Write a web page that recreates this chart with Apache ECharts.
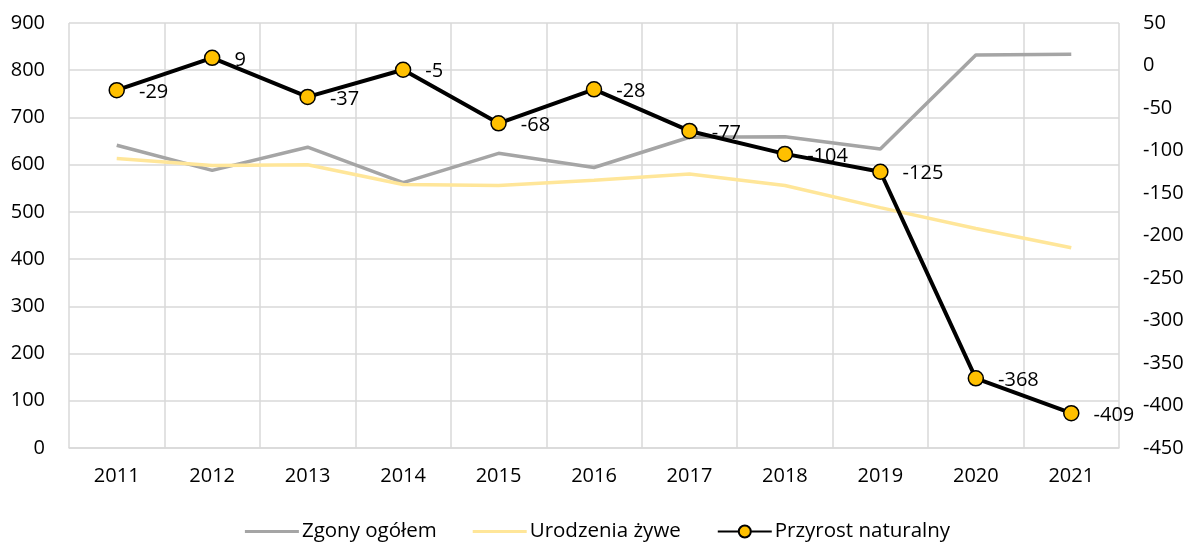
<!DOCTYPE html>
<html>
<head>
<meta charset="utf-8">
<script src="https://cdn.jsdelivr.net/npm/echarts@6/dist/echarts.min.js"></script>
<style>
  html, body { margin: 0; padding: 0; background: #fff; }
  #chart { width: 1195px; height: 545px; }
</style>
</head>
<body>
<div id="chart"></div>
<script>
// lata
var years = ['2011', '2012', '2013', '2014', '2015', '2016', '2017', '2018', '2019', '2020', '2021']
// lewa os
var zgony = [641, 588, 637, 562, 624, 594, 658, 659, 633, 832, 834]
var urodzenia = [613, 598, 600, 558, 556, 567, 580, 556, 509, 465, 424]
// prawa os
var przyrost = [-29, 9, -37, -5, -68, -28, -77, -104, -125, -368, -409]

var font = 'Open Sans'
var chart = echarts.init(document.getElementById('chart'))
var option = {
  animation: false,
  textStyle: { fontFamily: font },
  grid: { left: 69, right: 76, top: 23, bottom: 97, outerBoundsMode: 'none' },
  legend: {
    top: 516,
    left: 'center',
    itemWidth: 54,
    itemHeight: 15,
    itemGap: 36,
    textStyle: { fontFamily: font, fontSize: 20.5, color: '#000', padding: [0, 0, 0, -2] },
    data: [
      { name: 'Zgony ogółem', icon: 'path://M0,0 L54,0 L54,3 L0,3 Z', itemStyle: { color: '#a5a5a5' } },
      { name: 'Urodzenia żywe', icon: 'path://M0,0 L54,0 L54,3 L0,3 Z', itemStyle: { color: '#ffe699' } },
      'Przyrost naturalny'
    ]
  },
  xAxis: {
    type: 'category',
    data: years,
    boundaryGap: true,
    axisLine: { lineStyle: { color: '#d9d9d9', width: 1.5 } },
    axisTick: { show: false },
    splitLine: { show: true, lineStyle: { color: '#d9d9d9', width: 1.5 } },
    axisLabel: { color: '#000', fontSize: 20, margin: 18, fontFamily: font }
  },
  yAxis: [
    {
      type: 'value',
      min: 0,
      max: 900,
      interval: 100,
      axisLine: { show: false },
      axisTick: { show: false },
      splitLine: { lineStyle: { color: '#d9d9d9', width: 1.5 } },
      axisLabel: { color: '#000', fontSize: 20, margin: 24, fontFamily: font }
    },
    {
      type: 'value',
      min: -450,
      max: 50,
      interval: 50,
      axisLine: { show: false },
      axisTick: { show: false },
      splitLine: { show: false },
      axisLabel: { color: '#000', fontSize: 20, margin: 24, fontFamily: font }
    }
  ],
  series: [
    {
      name: 'Zgony ogółem',
      type: 'line',
      data: zgony,
      symbol: 'none',
      lineStyle: { color: '#a5a5a5', width: 3.5 },
      itemStyle: { color: '#a5a5a5' }
    },
    {
      name: 'Urodzenia żywe',
      type: 'line',
      data: urodzenia,
      symbol: 'none',
      lineStyle: { color: '#ffe699', width: 3.5 },
      itemStyle: { color: '#ffe699' }
    },
    {
      name: 'Przyrost naturalny',
      type: 'line',
      yAxisIndex: 1,
      data: przyrost,
      symbol: 'circle',
      symbolSize: 15,
      lineStyle: { color: '#000', width: 4 },
      itemStyle: { color: '#ffc000', borderColor: '#000', borderWidth: 1.5 },
      label: {
        show: true,
        position: 'right',
        distance: 14,
        offset: [0, 2],
        color: '#000',
        fontSize: 20,
        fontFamily: font
      }
    }
  ]
}
chart.setOption(option)
</script>
</body>
</html>
